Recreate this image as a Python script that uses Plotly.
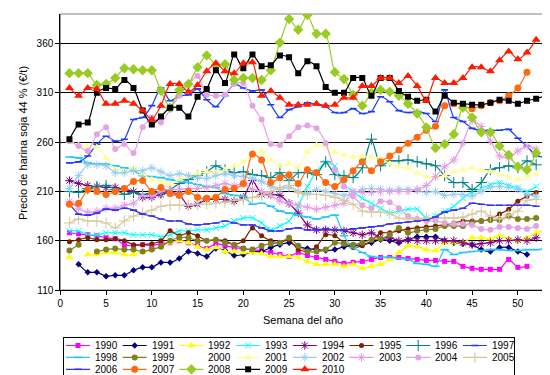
import plotly.graph_objects as go

W = 550
H = 375

weeks = list(range(1, 54))

y1990 = [168, 167, 166, 165, 163, 162, 156, 155, 156, 155, 157, 158, 160, 158, 155, 152, 157, 155, 153, 152, 151, 150, 148, 146, 144, 148, 145, 143, 141, 139, 137, 138, 139, 141, 143, 143, 143, 142, 141, 140, 140, 139, 139, 134, 132, 131, 131, 131, 141, 133, 134]
y1991 = [None, 136, 128, 128, 124, 125, 125, 130, 133, 133, 138, 138, 142, 149, 147, 144, 152, 150, 145, 146, 149, 149, 153, 156, 158, 154, 152, 151, 150, 151, 154, 155, 156, 158, 161, 160, 158, 161, 164, 164, 164, 160, 158, 157, 156, 151, 149, 153, 153, 149, 146]
y1992 = [143, None, 146, 146, 148, 148, 146, 146, 149, 151, 154, 158, 160, 158, 154, 151, 153, 149, 149, 148, 148, 147, 144, 144, 144, 143, 139, 136, 136, 136, 134, 136, 132, 134, 136, 141, 148, 155, 154, 151, 150, 158, 158, 158, 163, 163, 162, 165, 162, 160, 163, 168, 171]
y1993 = [170, 170, 166, 166, 168, 168, 168, 166, 166, 166, 164, 166, 170, 170, 171, 171, 173, 175, 180, 183, 183, 178, 171, 175, 180, 195, 215, 230, 239, 236, 217, 210, 203, 198, 193, 188, 190, 192, 192, 183, 185, 190, 195, 203, 210, 213, 217, 219, 216, 214, 210, 215]
y1994 = [221, 218, 216, 215, 214, 214, 212, 210, 204, 204, 207, 209, 207, 195, 197, 202, 202, 202, 200, 204, 221, 207, 207, 206, 198, 188, 176, 171, 171, 171, 170, 168, 166, 168, 163, 163, 160, 161, 160, 160, 160, 160, 160, 158, 156, 157, 158, 160, 160, 161, 160, 163]
y1995 = [159, 161, 163, 161, 161, 162, 160, 156, 156, 157, 160, 170, 165, 168, 165, 160, 161, 160, 156, 160, 173, 165, 160, 158, 161, 151, 149, 154, 166, 165, 158, 153, 155, 160, 168, 168, 170, 172, 173, 174, 175, 176, 178, 180, 180, 180, 182, 187, 192, 200, 205, 209]
y1996 = [210, 209, 213, 215, 216, 212, 207, 209, 207, 208, 209, 212, 218, 222, 226, 230, 236, 232, 229, 230, 227, 226, 224, 229, 221, 229, 229, 227, 240, 227, 226, 224, 234, 263, 236, 241, 241, 242, 240, 238, 236, 226, 219, 219, 212, 219, 232, 234, 236, 234, 241, 237]
y1997 = [239, 240, 246, 258, 266, 261, 263, 283, 285, 297, 315, 302, 307, 308, 314, 303, 296, 307, 319, 315, 312, 313, 298, 285, 293, 296, 300, 298, 296, 290, 290, 294, 289, 291, 306, 301, 292, 290, 291, 289, 281, 313, 285, 281, 274, 272, 272, 272, 273, 264, 256, 246, 245]
y1998 = [245, 244, 239, 238, 238, 236, 234, 231, 226, 225, 224, 222, 220, 219, 217, 215, 214, 208, 206, 205, 197, 198, 195, 190, 188, 186, 184, 182, 184, 186, 165, 153, 148, 144, 143, 143, 142, 141, 137, 136, 134, 151, 146, 148, 149, 150, 151, 151, 150, 150, 151, 151, 152]
y1999 = [150, 156, None, 149, 151, 152, 151, 151, 149, 151, 154, 160, 163, 163, 160, 160, 161, 158, 156, 152, 151, 155, 157, 158, 163, 155, 149, 149, 151, 158, 157, 156, 158, 161, 162, 166, 173, 168, 170, 171, 172, 175, 175, 175, 178, 180, 181, 181, 185, 182, 182, 183]
y2000 = []
y2001 = [261, 257, 255, 255, 244, 232, 230, 234, 228, 222, 220, 217, 222, 226, 228, 230, 229, 232, 236, 240, 246, 251, 242, 236, 238, 234, 250, 257, 256, 250, 247, 245, 246, 245, 244, 238, 235, 234, 229, 225, 224, 226, 230, 232, 234, 232, 230, 227, 225, 222, 225, 228]
y2002 = [213, 226, 237, 237, 236, 229, 229, 231, 231, 234, 230, 226, 228, 226, 224, 223, 226, 228, 226, 225, 223, 220, 215, 212, 214, 210, 208, 212, 210, 208, 206, 208, 212, 213, 212, 211, 212, 212, 211, 209, 210, 206, 207, 207, 205, 210, 214, 215, 214, 212, 207, 205]
y2003 = [200, 193, 189, 190, 193, 193, 196, 198, 206, 205, 210, 212, 212, 213, 213, 214, 216, 218, 216, 218, 212, 210, 206, 200, 198, 196, 194, 192, 194, 196, 198, 210, 209, 209, 210, 210, 210, 210, 212, 216, 225, 235, 242, 259, 282, 276, 261, 246, 244, 251, 256, 253]
y2004 = [261, 256, 251, 268, 275, 253, 258, 249, 275, 285, 280, 293, 307, 319, 327, 308, 307, 308, 319, 320, 297, 283, 258, 257, 266, 275, 277, 274, 259, 232, 215, 205, 196, 193, 200, 199, 193, 185, 182, 180, 180, 178, 177, 177, 176, 172, 171, 174, 174, 173, 172, 175]
y2005 = [178, 182, 180, 180, 178, 173, 180, 185, 188, 191, 195, 196, 196, 196, 197, 197, 198, 199, 201, 202, 204, 206, 210, 214, 216, 209, 207, 207, 206, 204, 201, 197, 190, 189, 189, 188, 183, 182, 182, 183, 183, 183, 183, 184, 187, 190, 185, 182, 186, 190, 201, 202]
y2006 = [197, 187, 186, 188, 192, 191, 193, 191, 187, 185, 182, 180, 180, 177, 176, 177, 178, 180, 178, 176, 176, 173, 170, 170, 172, 173, 171, 171, 172, 171, 171, 172, 173, 174, 175, 177, 178, 179, 180, 181, 184, 189, 191, 193, 198, 197, 196, 196, 196, 196, 196, 195]
y2007 = [197, 198, 212, 210, 207, 210, 213, 220, 221, 210, 214, 208, 206, 210, 204, 203, 204, 212, 213, 218, 248, 242, 219, 224, 227, 218, 232, 229, 219, 215, 222, 231, 240, 231, 240, 246, 252, 259, 265, 272, 276, 297, 299, 297, 294, 297, 300, 302, 307, 315, 331]
y2008 = [330, 330, 330, 318, 319, 325, 335, 334, 333, 333, 312, 295, 313, 319, 336, 348, 338, 339, 323, 325, 325, 323, 333, 361, 385, 374, 389, 370, 370, 331, 324, 308, 297, 310, 313, 311, 307, 299, 289, 275, 254, 258, 268, 295, 285, 270, 270, 256, 247, 235, 232, 249]
y2009 = [263, 278, 280, 310, 315, 314, 323, 315, 292, 278, 286, 295, 295, 286, 306, 314, 333, 320, 349, 335, 349, 337, 338, 348, 346, 330, 342, 337, 316, 310, 310, 325, 325, 307, 325, 325, 312, 306, 302, 303, 291, 307, 300, 299, 298, 298, 300, 303, 302, 299, 302, 304, 307]
y2010 = [315, 307, 315, 314, 299, 299, 302, 299, 292, 283, 297, 319, 319, 311, 318, 332, 340, 332, 330, 340, 341, 307, 312, 305, 298, 298, 298, 299, 297, 298, 305, 305, 317, 317, 325, 325, 320, 327, 317, 302, 325, 320, 320, 325, 336, 336, 332, 343, 352, 344, 351, 364]

years = ["1990", "1991", "1992", "1993", "1994", "1995", "1996", "1997",
         "1998", "1999", "2000", "2001", "2002", "2003", "2004", "2005",
         "2006", "2007", "2008", "2009", "2010"]
values = [y1990, y1991, y1992, y1993, y1994, y1995, y1996, y1997,
          y1998, y1999, y2000, y2001, y2002, y2003, y2004, y2005,
          y2006, y2007, y2008, y2009, y2010]

x_ticks = [0, 5, 10, 15, 20, 25, 30, 35, 40, 45, 50]
y_ticks = [110, 160, 210, 260, 310, 360]

# style per series: color, symbol, size, symbol-outline (open) flag
styles = {
    "1990": ("#FF00FF", "square", 5, False),
    "1991": ("#000080", "diamond", 5, False),
    "1992": ("#FFFF00", "triangle-up", 7, False),
    "1993": ("#00FFFF", "x-thin-open", 6, True),
    "1994": ("#800080", "asterisk-open", 7, True),
    "1995": ("#802000", "circle", 5, False),
    "1996": ("#008080", "cross-thin-open", 8, True),
    "1997": ("#1A3CFF", "line-ew-open", 5, True),
    "1998": ("#22C8F2", "line-ew-open", 6, True),
    "1999": ("#808020", "circle", 6, False),
    "2000": ("rgba(0,0,0,0)", "circle", 1, False),
    "2001": ("#FFFF99", "triangle-up", 7, False),
    "2002": ("#99CCF5", "asterisk-open", 7, True),
    "2003": ("#E49BE4", "asterisk-open", 7, True),
    "2004": ("#E4A4E4", "circle", 6, False),
    "2005": ("#D6C89C", "cross-thin-open", 8, True),
    "2006": ("#3333F0", "line-ew-open", 5, True),
    "2007": ("#FF6A10", "circle", 7, False),
    "2008": ("#99CC22", "diamond", 8, False),
    "2009": ("#000000", "square", 6, False),
    "2010": ("#FF1A00", "triangle-up", 8, False),
}

FONT = "Liberation Sans, Arial, sans-serif"

fig = go.Figure()

for yr, vals in zip(years, values):
    if not vals:
        continue
    col, sym, size, is_open = styles[yr]
    padded = list(vals) + [None] * (len(weeks) - len(vals))
    marker = dict(symbol=sym, size=size, color=col)
    if is_open:
        marker["line"] = dict(color=col, width=1.6 if "line-ew" in sym else 1)
    else:
        marker["line"] = dict(width=0)
    fig.add_trace(go.Scatter(
        x=weeks, y=padded, mode="lines+markers", name=yr,
        line=dict(color=col, width=1.2, shape="spline", smoothing=0.6),
        marker=marker, showlegend=False, hoverinfo="skip",
    ))

# ---- manual legend (boxed grid, 8 columns) ----
n_cols = 8
col0 = 58.0
col_step = 56.7
row0 = 337.5
row_step = 11.9
line_len = 24.0
annotations = []
for i, yr in enumerate(years):
    c, r = i % n_cols, i // n_cols
    x0 = col0 + c * col_step
    yy = row0 + r * row_step
    col, sym, size, is_open = styles[yr]
    if yr != "2000":
        fig.add_trace(go.Scatter(
            x=[x0, x0 + line_len], y=[yy, yy], xaxis="x2", yaxis="y2",
            mode="lines", line=dict(color=col, width=1.2),
            showlegend=False, hoverinfo="skip"))
        marker = dict(symbol=sym, size=size, color=col)
        if is_open:
            marker["line"] = dict(color=col, width=1.6 if "line-ew" in sym else 1)
        else:
            marker["line"] = dict(width=0)
        fig.add_trace(go.Scatter(
            x=[x0 + line_len / 2], y=[yy], xaxis="x2", yaxis="y2",
            mode="markers", marker=marker, showlegend=False, hoverinfo="skip",
            cliponaxis=False))
    annotations.append(dict(
        x=x0 + line_len + 3, y=yy, xref="x2", yref="y2", text=yr,
        showarrow=False, xanchor="left", yanchor="middle",
        font=dict(family=FONT, size=10, color="black")))

# axis titles
annotations.append(dict(
    x=15 / W, y=1 - 135 / H, xref="paper", yref="paper",
    text="Precio de harina soja 44 % (€/t)", textangle=-90, showarrow=False,
    xanchor="center", yanchor="middle", font=dict(family=FONT, size=11, color="black")))
annotations.append(dict(
    x=(52.3 + 537.3) / 2 / W, y=1 - 312 / H, xref="paper", yref="paper",
    text="Semana del año", showarrow=False, xanchor="center", yanchor="middle",
    font=dict(family=FONT, size=11, color="black")))

x_dom = [52.3 / W, 537.3 / W]
y_dom = [1 - 282 / H, 1 - 6 / H]

fig.update_layout(
    width=W, height=H,
    margin=dict(l=0, r=0, t=0, b=0),
    paper_bgcolor="white", plot_bgcolor="white",
    font=dict(family=FONT, size=10, color="black"),
    showlegend=False,
    xaxis=dict(domain=x_dom, range=[0, 53], tickmode="array", tickvals=x_ticks,
               ticks="outside", ticklen=4, tickcolor="black", showline=True,
               linecolor="black", linewidth=1, showgrid=False, zeroline=False,
               tickfont=dict(family=FONT, size=10, color="black"), automargin=False,
               anchor="y"),
    yaxis=dict(domain=y_dom, range=[110, 390], tickmode="array", tickvals=y_ticks,
               ticks="outside", ticklen=4, tickcolor="black", showline=True,
               linecolor="black", linewidth=1, showgrid=True, gridcolor="black",
               gridwidth=1, zeroline=False,
               tickfont=dict(family=FONT, size=10, color="black"), automargin=False,
               anchor="x"),
    xaxis2=dict(domain=[55.7 / W, 506 / W], range=[55.7, 506], anchor="y2",
                showline=True, mirror=True, linecolor="black", linewidth=1,
                showticklabels=False, showgrid=False, zeroline=False, ticks=""),
    yaxis2=dict(domain=[1 - 370.7 / H, 1 - 329.5 / H], range=[370.7, 329.5],
                anchor="x2", showline=True, mirror=True, linecolor="black",
                linewidth=1, showticklabels=False, showgrid=False, zeroline=False,
                ticks=""),
    shapes=[dict(type="rect", xref="x domain", yref="y domain", x0=0, x1=1,
                 y0=0, y1=1, line=dict(color="#808080", width=1), layer="below")],
    annotations=annotations,
)

fig.write_html("out.html")
